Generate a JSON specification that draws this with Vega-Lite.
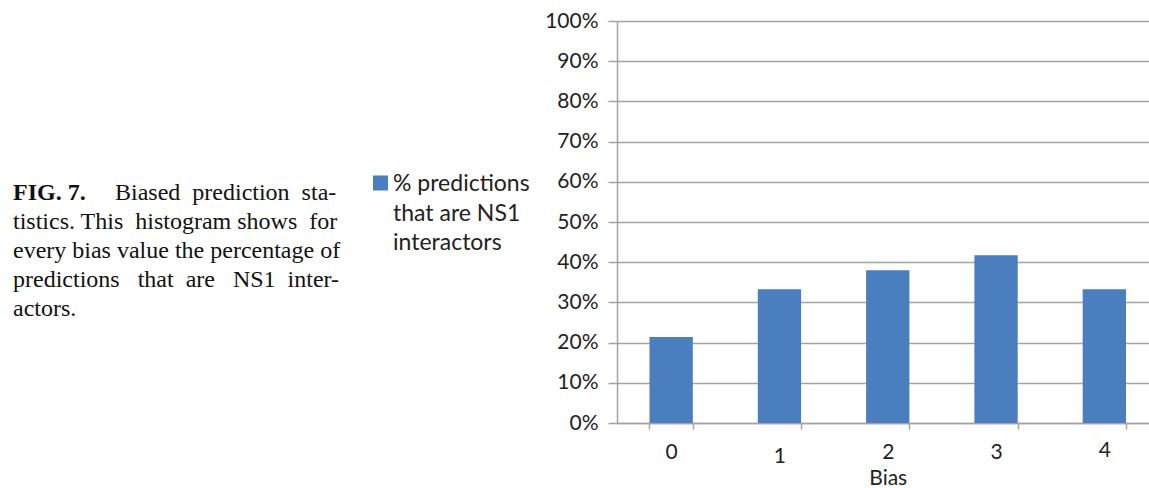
{
  "$schema": "https://vega.github.io/schema/vega-lite/v6.json",
  "width": 532,
  "height": 402,
  "autosize": {"type": "none"},
  "padding": {"left": 617, "top": 21, "right": 0, "bottom": 65},
  "background": "white",
  "title": {
    "text": "FIG. 7.",
    "subtitle": [
      "\u200b\u00a0\u00a0\u00a0\u00a0\u00a0\u00a0\u00a0\u00a0\u00a0\u00a0\u00a0\u00a0\u00a0\u00a0\u00a0\u00a0\u00a0Biased\u00a0 prediction\u00a0 sta-",
      "tistics. This\u00a0 histogram shows\u00a0 for",
      "every bias value the percentage of",
      "predictions\u00a0\u00a0 that\u00a0 are\u00a0\u00a0 NS1\u00a0 inter-",
      "actors."
    ],
    "orient": "top",
    "anchor": "start",
    "frame": "group",
    "font": "Liberation Serif",
    "fontSize": 24,
    "fontWeight": "bold",
    "color": "#111111",
    "subtitleFont": "Liberation Serif",
    "subtitleFontSize": 24,
    "subtitleFontWeight": "normal",
    "subtitleColor": "#111111",
    "subtitleLineHeight": 29,
    "subtitlePadding": -24,
    "dx": -604,
    "dy": 315
  },
  "data": {
    "values": [
      {"bias": "0", "share": 0.214, "series": "% predictions that are NS1 interactors"},
      {"bias": "1", "share": 0.333, "series": "% predictions that are NS1 interactors"},
      {"bias": "2", "share": 0.380, "series": "% predictions that are NS1 interactors"},
      {"bias": "3", "share": 0.417, "series": "% predictions that are NS1 interactors"},
      {"bias": "4", "share": 0.333, "series": "% predictions that are NS1 interactors"}
    ]
  },
  "mark": {"type": "bar"},
  "encoding": {
    "x": {
      "field": "bias",
      "type": "ordinal",
      "title": "Bias",
      "scale": {"type": "band", "range": [0, 541.5], "paddingInner": 0.6, "paddingOuter": 0.3},
      "axis": {
        "labelAngle": 0,
        "domain": true,
        "domainColor": "#a3a3a3",
        "domainWidth": 1.5,
        "ticks": true,
        "tickBand": "extent",
        "tickSize": 6,
        "tickColor": "#a3a3a3",
        "tickWidth": 1.5,
        "grid": false,
        "labelFont": "Lato",
        "labelFontSize": 21,
        "labelColor": "#222222",
        "labelBaseline": "middle",
        "labelPadding": {"expr": "datum.label == '1' ? 27 : (datum.label == '4' ? 21 : 23)"},
        "titleFont": "Lato",
        "titleFontSize": 21,
        "titleFontWeight": "normal",
        "titleColor": "#222222",
        "titlePadding": 1
      }
    },
    "y": {
      "field": "share",
      "type": "quantitative",
      "title": null,
      "scale": {"domain": [0, 1], "nice": false},
      "axis": {
        "values": [0, 0.1, 0.2, 0.3, 0.4, 0.5, 0.6, 0.7, 0.8, 0.9, 1],
        "format": ".0%",
        "domain": true,
        "domainColor": "#a3a3a3",
        "domainWidth": 1.5,
        "ticks": true,
        "tickSize": 9,
        "tickColor": "#a3a3a3",
        "tickWidth": 1.5,
        "grid": true,
        "gridColor": "#a3a3a3",
        "gridWidth": 1.5,
        "labelFont": "Lato",
        "labelFontSize": 21,
        "labelColor": "#222222",
        "labelPadding": 10
      }
    },
    "color": {
      "field": "series",
      "type": "nominal",
      "scale": {"range": ["#4a7ebf"]},
      "legend": {
        "title": null,
        "orient": "none",
        "legendX": -248,
        "legendY": 150.5,
        "padding": 0,
        "symbolType": "square",
        "symbolSize": 225,
        "symbolStrokeWidth": 0,
        "labelOffset": 1,
        "labelFont": "Lato",
        "labelFontSize": 23,
        "labelColor": "#222222",
        "labelBaseline": "alphabetic",
        "labelLimit": 300,
        "labelExpr": "[slice(datum.label, 0, 13), slice(datum.label, 14, 26), slice(datum.label, 27)]",
        "encode": {"labels": {"update": {"lineHeight": {"value": 29.5}, "dy": {"value": 8}}}}
      }
    }
  },
  "config": {"view": {"stroke": null}}
}
